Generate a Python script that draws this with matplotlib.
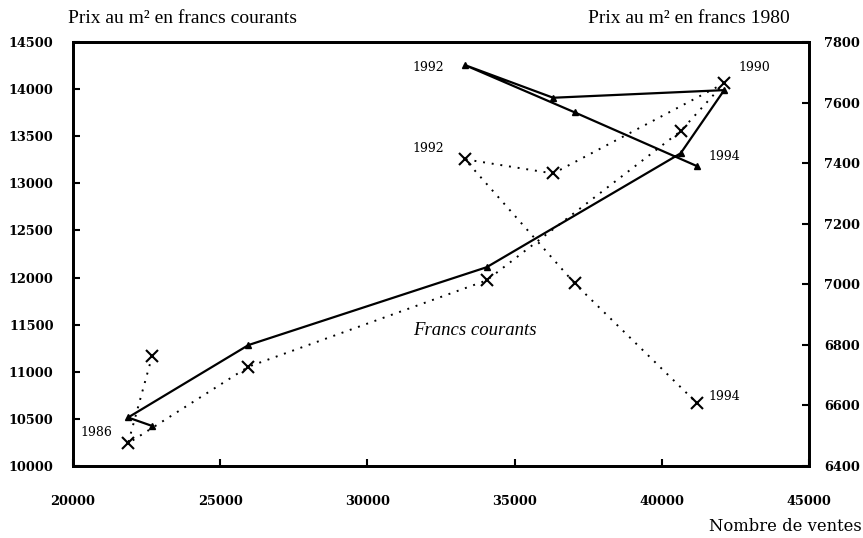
import matplotlib
matplotlib.use('Agg')
import matplotlib.pyplot as plt

# ventes et prix au m2, 1985-1994
years = [1985, 1986, 1987, 1988, 1989, 1990, 1991, 1992, 1993, 1994]
ventes = [22690, 21870, 25960, 34050, 40640, 42120, 36310, 33310, 37040, 41190]
prix_courants = [10425, 10515, 11284, 12110, 13319, 13990, 13909, 14256, 13754, 13184]
prix_1980 = [6764, 6475, 6728, 7013, 7506, 7664, 7366, 7413, 7003, 6608]

serif = ['DejaVu Serif']
times = ['Liberation Serif']

fig = plt.figure(figsize=(8.63, 5.38), dpi=100)
ax = fig.add_axes([0.0846, 0.1338, 0.8528, 0.788])
ax2 = ax.twinx()

ax.plot(ventes, prix_courants, color='black', lw=1.6, marker='^', ms=4.5, zorder=3)
ax2.plot(ventes, prix_1980, color='black', lw=1.4, ls=(0, (1, 3.5)), marker='x',
         ms=8, mew=1.5, zorder=3)

ax.set_xlim(20000, 45000)
ax.set_ylim(10000, 14500)
ax2.set_ylim(6400, 7800)
ax.set_xticks(range(20000, 45001, 5000))
ax.set_yticks(range(10000, 14501, 500))
ax2.set_yticks(range(6400, 7801, 200))

for a in (ax, ax2):
    for s in a.spines.values():
        s.set_linewidth(2)
    a.tick_params(direction='in', length=5, width=1.5, labelsize=9.3)
    for lab in a.get_xticklabels() + a.get_yticklabels():
        lab.set_fontfamily(serif)
        lab.set_fontweight('bold')
ax.tick_params(axis='x', pad=21)
ax.tick_params(axis='y', pad=14)
ax2.tick_params(axis='y', pad=11)

# annotations des annees
labels = [
    (0.0095, 0.078, '1986'),
    (0.4606, 0.941, '1992'),
    (0.9035, 0.941, '1990'),
    (0.4606, 0.750, '1992'),
    (0.8628, 0.729, '1994'),
    (0.8640, 0.163, '1994'),
]
for fx, fy, txt in labels:
    ax.text(fx, fy, txt, transform=ax.transAxes, fontsize=9, family=serif,
            ha='left', va='center')

ax.text(33655, 11443, 'Francs courants', fontsize=13.5, style='italic',
        family=times, ha='center', va='center')

fig.text(0.0788, 0.966, 'Prix au m² en francs courants', fontsize=14,
         family=times, ha='left', va='center')
fig.text(0.9155, 0.966, 'Prix au m² en francs 1980', fontsize=14,
         family=times, ha='right', va='center')
fig.text(0.998, 0.022, 'Nombre de ventes', fontsize=11.8, family=serif,
         ha='right', va='center')

fig.savefig('out.png', dpi=100)
